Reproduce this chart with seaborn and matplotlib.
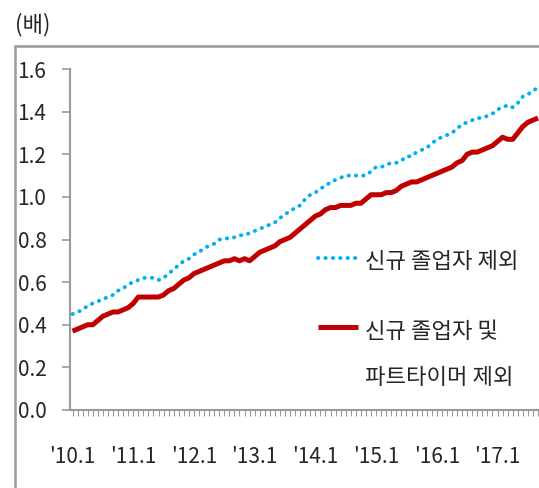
import numpy as np
import pandas as pd
import matplotlib.pyplot as plt
import matplotlib.patches as mpatches
import seaborn as sns

# monthly series, 2010.1 ~ 2017.9
excl_new = [0.45, 0.46, 0.47, 0.49, 0.50, 0.51, 0.52, 0.53, 0.54, 0.56, 0.57, 0.59,
            0.60, 0.61, 0.62, 0.62, 0.62, 0.61, 0.62, 0.64, 0.66, 0.68, 0.70, 0.71,
            0.73, 0.74, 0.76, 0.77, 0.78, 0.80, 0.80, 0.81, 0.81, 0.82, 0.82, 0.83,
            0.84, 0.85, 0.86, 0.87, 0.88, 0.90, 0.92, 0.93, 0.95, 0.96, 0.99, 1.01,
            1.02, 1.04, 1.05, 1.07, 1.08, 1.09, 1.10, 1.10, 1.10, 1.10, 1.10, 1.12,
            1.14, 1.14, 1.15, 1.16, 1.16, 1.17, 1.19, 1.19, 1.21, 1.22, 1.23, 1.25,
            1.27, 1.28, 1.29, 1.30, 1.32, 1.34, 1.35, 1.36, 1.37, 1.37, 1.38, 1.39,
            1.41, 1.42, 1.43, 1.42, 1.44, 1.47, 1.48, 1.50, 1.51]
excl_new_part = [0.37, 0.38, 0.39, 0.40, 0.40, 0.42, 0.44, 0.45, 0.46, 0.46, 0.47, 0.48,
                 0.50, 0.53, 0.53, 0.53, 0.53, 0.53, 0.54, 0.56, 0.57, 0.59, 0.61, 0.62,
                 0.64, 0.65, 0.66, 0.67, 0.68, 0.69, 0.70, 0.70, 0.71, 0.70, 0.71, 0.70,
                 0.72, 0.74, 0.75, 0.76, 0.77, 0.79, 0.80, 0.81, 0.83, 0.85, 0.87, 0.89,
                 0.91, 0.92, 0.94, 0.95, 0.95, 0.96, 0.96, 0.96, 0.97, 0.97, 0.99, 1.01,
                 1.01, 1.01, 1.02, 1.02, 1.03, 1.05, 1.06, 1.07, 1.07, 1.08, 1.09, 1.10,
                 1.11, 1.12, 1.13, 1.14, 1.16, 1.17, 1.20, 1.21, 1.21, 1.22, 1.23, 1.24,
                 1.26, 1.28, 1.27, 1.27, 1.30, 1.33, 1.35, 1.36, 1.37]
year_labels = ["'10.1", "'11.1", "'12.1", "'13.1", "'14.1", "'15.1", "'16.1", "'17.1"]
name1 = "신규 졸업자 제외"
name2 = "신규 졸업자 및\n파트타이머 제외"

months = np.arange(len(excl_new))
df = pd.DataFrame({"month": months, "v1": excl_new, "v2": excl_new_part})

sns.set_style("white")
plt.rcParams['font.family'] = ['Noto Sans CJK KR', 'DejaVu Sans']

fig = plt.figure(figsize=(5.39, 4.88), dpi=100)
ax = fig.add_axes([70/539, 78/488, 1 - 70/539, (410-69)/488])

sns.lineplot(data=df, x="month", y="v1", ax=ax, color="#00B0F0", linewidth=2.8,
             linestyle=(0, (0.1, 1.8)), dash_capstyle="round", label=name1)
sns.lineplot(data=df, x="month", y="v2", ax=ax, color="#C00000", linewidth=3.6,
             label=name2, solid_capstyle="butt")

ax.set_xlim(-0.5, 92.2)
ax.set_ylim(0, 1.6)
ax.set_yticks(np.arange(0, 1.61, 0.2))
ax.set_yticklabels([f"{v:.1f}" for v in np.arange(0, 1.61, 0.2)])
ax.set_xticks(np.arange(0, 96, 12))
ax.set_xticklabels(year_labels)
ax.set_xticks(months, minor=True)
ax.set_xlabel("")
ax.set_ylabel("")

for s in ["top", "right"]:
    ax.spines[s].set_visible(False)
for s in ["left", "bottom"]:
    ax.spines[s].set_color("#999999")
    ax.spines[s].set_linewidth(1.5)

ax.tick_params(axis="y", left=True, direction="out", length=6, width=1.2,
               color="#999999", labelsize=15, pad=11)
ax.tick_params(axis="x", which="both", bottom=True, direction="out", length=4,
               width=0.8, color="#999999")
ax.tick_params(axis="x", which="major", labelsize=15, pad=22)

leg = ax.legend(loc="upper left", bbox_to_anchor=(318/539, 1 - 250/488),
                bbox_transform=fig.transFigure, frameon=False, borderpad=0,
                borderaxespad=0, fontsize=16, handlelength=1.8, handletextpad=0.3,
                labelspacing=2.1)
for col in leg._legend_handle_box.get_children():
    for item in col.get_children():
        item.align = "top"
leg.get_texts()[1].set_linespacing(2.3)

# outer frame
fig.patches.append(mpatches.Rectangle((15/539, -0.1), 1.2, 1 - 46/488 + 0.1,
                                      transform=fig.transFigure, fill=False,
                                      edgecolor="#999999", linewidth=1.8))
fig.text(15/539, 1 - 25/488, "(배)", fontsize=16, va="center", ha="left")

fig.savefig("out.png", dpi=100)
